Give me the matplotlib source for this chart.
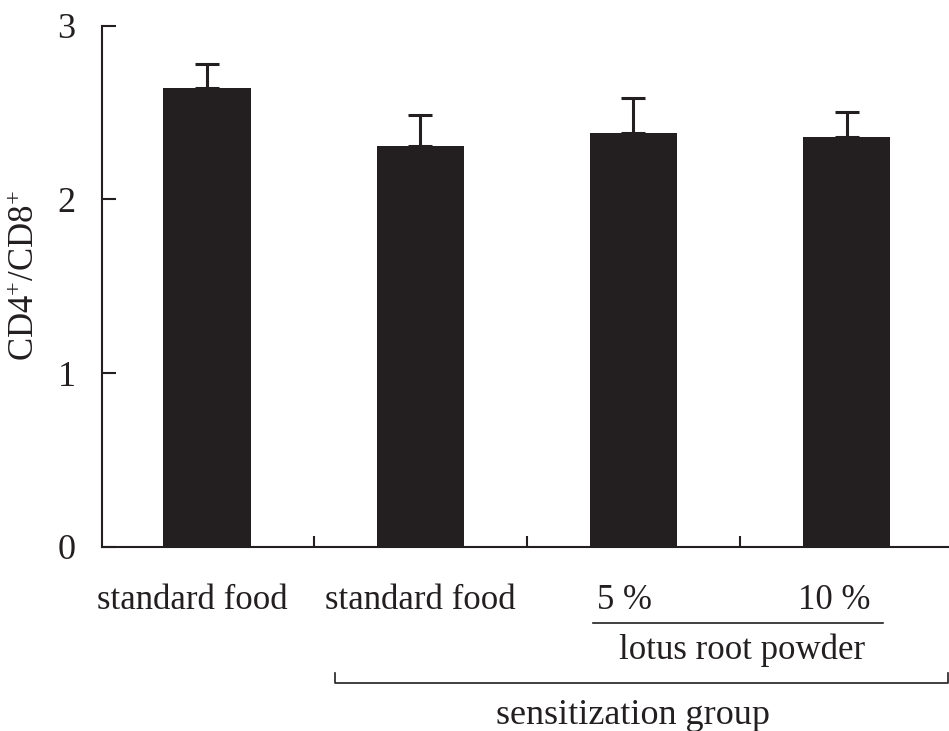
import numpy as np
import matplotlib.pyplot as plt
from matplotlib.transforms import blended_transform_factory

plt.rcParams['font.family'] = ['Liberation Serif', 'DejaVu Serif']
plt.rcParams['mathtext.fontset'] = 'custom'
plt.rcParams['mathtext.rm'] = 'Liberation Serif'
plt.rcParams['mathtext.it'] = 'Liberation Serif:italic'

labels = ['standard food', 'standard food', '5 %', '10 %']
values = [2.64, 2.307, 2.383, 2.359]
errors = [0.138, 0.178, 0.202, 0.146]
yticks = [0, 1, 2, 3]

ink = '#231f20'
fs = 25

fig = plt.figure(figsize=(9.49, 7.31), dpi=100)
ax = fig.add_axes([102 / 949, (731 - 546.7) / 731, 847 / 949, 521 / 731])

x = np.arange(len(values))
ax.bar(x, values, width=0.41, color=ink, edgecolor=ink, linewidth=0)
ax.errorbar(x, values, yerr=[np.zeros(len(errors)), errors], fmt='none',
            ecolor=ink, elinewidth=2.2, capsize=8.5, capthick=2.2)

ax.set_xlim(-0.493, 3.48)
ax.set_ylim(0, 3)
ax.set_yticks(yticks)
ax.set_yticklabels([str(v) for v in yticks], fontsize=fs + 1)
ax.tick_params(axis='y', direction='in', length=10, width=1.5, pad=19, colors=ink)
ax.set_xticks([0.5, 1.5, 2.5])
ax.set_xticklabels([])
ax.tick_params(axis='x', direction='in', length=8, width=1.5, colors=ink)

for side in ['top', 'right']:
    ax.spines[side].set_visible(False)
for side in ['left', 'bottom']:
    ax.spines[side].set_linewidth(1.5)
    ax.spines[side].set_color(ink)

ax.set_ylabel(r'CD4$^{+}$/CD8$^{+}$', fontsize=fs, color=ink)
ax.yaxis.set_label_coords(-0.071, 0.52)

trans = blended_transform_factory(ax.transData, fig.transFigure)


def fy(py):
    return (731 - py) / 731


label_x = [-0.07, 0.0, -0.04, -0.06]
for xi, dx, lab in zip(x, label_x, labels):
    ax.text(xi + dx, fy(609), lab, transform=trans, ha='center', va='baseline',
            fontsize=fs, color=ink)

# lotus root powder group
ax.plot([1.81, 3.17], [fy(623), fy(623)], transform=trans, color=ink,
        lw=1.2, clip_on=False)
ax.text(2.51, fy(659), 'lotus root powder', transform=trans, ha='center',
        va='baseline', fontsize=fs, color=ink)

# sensitization group bracket
ax.plot([0.60, 0.60, 3.475, 3.475], [fy(673), fy(683), fy(683), fy(673)],
        transform=trans, color=ink, lw=1.2, clip_on=False)
ax.text(2.0, fy(724), 'sensitization group', transform=trans, ha='center',
        va='baseline', fontsize=fs + 1, color=ink)

fig.savefig('out.png', dpi=100)
